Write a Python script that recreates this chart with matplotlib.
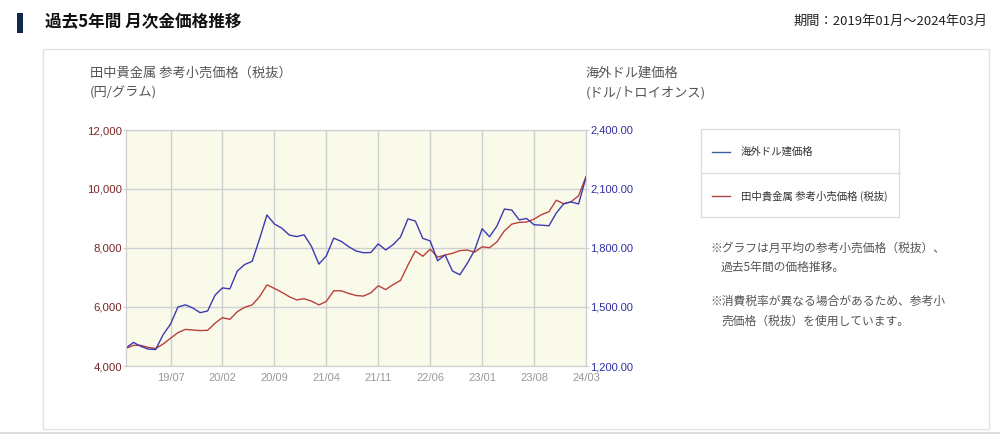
import matplotlib.pyplot as plt
from matplotlib.patches import Rectangle
from matplotlib.lines import Line2D

plt.rcParams['font.family'] = ['Noto Sans CJK JP', 'DejaVu Sans']

# monthly data, 2019/01 .. 2024/03
months = [f"{y % 100:02d}/{m:02d}" for y in range(2019, 2025) for m in range(1, 13)][:63]

retail_jpy = [
    4600, 4700, 4700, 4630, 4590, 4745, 4940, 5130, 5240, 5220, 5200, 5210,
    5450, 5640, 5580, 5840, 5990, 6070, 6350, 6750, 6630, 6500, 6350, 6240,
    6280, 6200, 6070, 6190, 6550, 6550, 6460, 6390, 6370, 6480, 6720, 6590,
    6760, 6900, 7420, 7900, 7720, 7960, 7690, 7760, 7820, 7910, 7930, 7860,
    8040, 8010, 8210, 8580, 8810, 8870, 8880, 8980, 9130, 9230, 9620, 9500,
    9570, 9770, 10420,
]
overseas_usd = [
    1291, 1320, 1300, 1286, 1284, 1359, 1413, 1500, 1511, 1495, 1471, 1480,
    1560, 1597, 1592, 1683, 1716, 1732, 1846, 1968, 1922, 1901, 1866, 1858,
    1867, 1808, 1718, 1760, 1850, 1834, 1807, 1785, 1776, 1777, 1821, 1790,
    1817, 1856, 1948, 1937, 1849, 1836, 1735, 1765, 1683, 1664, 1722, 1790,
    1898, 1857, 1912, 1998, 1993, 1943, 1950, 1918, 1916, 1913, 1978, 2025,
    2034, 2024, 2159,
]
tick_labels = ["19/07", "20/02", "20/09", "21/04", "21/11", "22/06", "23/01", "23/08", "24/03"]
jpy_ticks = [4000, 6000, 8000, 10000, 12000]
usd_ticks = [1200, 1500, 1800, 2100, 2400]

RED = "#b8413c"
BLUE = "#3b3bb0"
GRID = "#cfcfcf"
TXT = "#555555"

fig = plt.figure(figsize=(10, 4.38), dpi=100)
W, H = 1000, 438


def fx(px):
    return px / W


def fy(py):
    return 1 - py / H


# header
fig.patches.append(Rectangle((fx(17), fy(33)), 6 / W, 20 / H, transform=fig.transFigure,
                             facecolor="#0f2a4e", edgecolor="none"))
fig.text(fx(45), fy(22), "過去5年間 月次金価格推移", fontsize=12, fontweight="bold",
         color="#111111", va="center", ha="left")
fig.text(fx(988), fy(21), "期間：2019年01月～2024年03月", fontsize=9.5,
         color="#222222", va="center", ha="right")

# panel (behind the axes)
fig.patches.append(Rectangle((fx(43), fy(429)), 946 / W, 380 / H, transform=fig.transFigure,
                             facecolor="white", edgecolor="#e2e2e2", linewidth=1, zorder=-5))
fig.lines.append(Line2D([0, 1], [fy(433), fy(433)], transform=fig.transFigure,
                        color="#dddddd", linewidth=1.5))

fig.text(fx(90), fy(73), "田中貴金属 参考小売価格（税抜）", fontsize=9.5, color=TXT,
         va="center", ha="left")
fig.text(fx(90), fy(93), "(円/グラム)", fontsize=9.5, color=TXT, va="center", ha="left")
fig.text(fx(586), fy(73), "海外ドル建価格", fontsize=9.5, color=TXT, va="center", ha="left")
fig.text(fx(586), fy(93), "(ドル/トロイオンス)", fontsize=9.5, color=TXT, va="center", ha="left")

# chart
ax = fig.add_axes([fx(126), fy(366), 460 / W, 236 / H])
ax.set_facecolor("#fafaeb")
x = list(range(len(months)))
ax.plot(x, retail_jpy, color=RED, linewidth=1)
ax.set_xlim(0, len(months) - 1)
ax.set_ylim(jpy_ticks[0], jpy_ticks[-1])
ax.set_yticks(jpy_ticks)
ax.set_yticklabels([f"{v:,}" for v in jpy_ticks], fontfamily="Liberation Sans",
                   fontsize=8.2, color="#7a2626")
ax.set_xticks([months.index(t) for t in tick_labels])
ax.set_xticklabels(tick_labels, fontfamily="Liberation Sans", fontsize=8, color="#999999")
ax.grid(True, color=GRID, linewidth=1)
ax.set_axisbelow(True)
ax.tick_params(axis="y", length=2, color=GRID, pad=1)
ax.tick_params(axis="x", length=0, pad=5)
for s in ax.spines.values():
    s.set_color(GRID)

ax2 = ax.twinx()
ax2.plot(x, overseas_usd, color=BLUE, linewidth=1)
ax2.set_ylim(usd_ticks[0], usd_ticks[-1])
ax2.set_yticks(usd_ticks)
ax2.set_yticklabels([f"{v:,.2f}" for v in usd_ticks], fontfamily="Liberation Sans",
                    fontsize=8, color="#2f2fa0")
ax2.tick_params(axis="y", length=2, color=GRID, pad=1)
for s in ax2.spines.values():
    s.set_color(GRID)

# legend box
fig.patches.append(Rectangle((fx(701), fy(217)), 198 / W, 88 / H, transform=fig.transFigure,
                             facecolor="white", edgecolor="#dddddd", linewidth=1))
fig.lines.append(Line2D([fx(701), fx(899)], [fy(173), fy(173)], transform=fig.transFigure,
                        color="#dddddd", linewidth=1))
for yy, col, lab in [(152, "#3a5f9a", "海外ドル建価格"), (196, "#a84444", "田中貴金属 参考小売価格 (税抜)")]:
    fig.lines.append(Line2D([fx(712), fx(730)], [fy(yy), fy(yy)], transform=fig.transFigure,
                            color=col, linewidth=1))
    fig.text(fx(741), fy(yy), lab, fontsize=7.5, color="#333333", va="center", ha="left")

# notes
notes = [
    (710, 248, "※グラフは月平均の参考小売価格（税抜）、"),
    (721, 267, "過去5年間の価格推移。"),
    (710, 301, "※消費税率が異なる場合があるため、参考小"),
    (721, 321, "売価格（税抜）を使用しています。"),
]
for nx, ny, t in notes:
    fig.text(fx(nx), fy(ny), t, fontsize=8.5, color=TXT, va="center", ha="left")

fig.savefig("out.png", dpi=100, facecolor="white")
